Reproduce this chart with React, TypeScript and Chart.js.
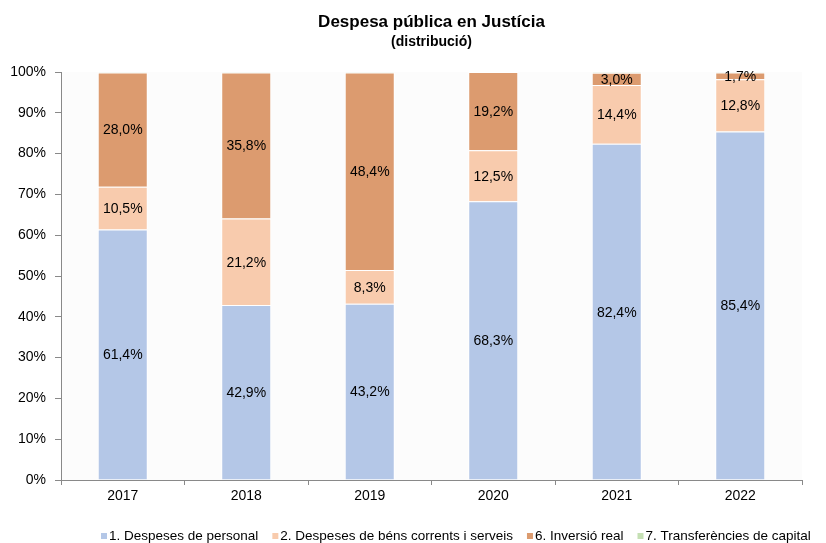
import { useEffect, useRef } from "react";
import { Chart, registerables } from "chart.js";
Chart.register(...registerables);

const years = ["2017", "2018", "2019", "2020", "2021", "2022"];
const personal = [61.4, 42.9, 43.2, 68.3, 82.4, 85.4];
const bens = [10.5, 21.2, 8.3, 12.5, 14.4, 12.8];
const inversio = [28.0, 35.8, 48.4, 19.2, 3.0, 1.7];
const transferencies = [0.1, 0.1, 0.1, 0.0, 0.2, 0.1];
const seriesNames = [
  "1. Despeses de personal",
  "2. Despeses de béns corrents i serveis",
  "6. Inversió real",
  "7. Transferències de capital",
];
const seriesColors = ["#b4c7e7", "#f8cbad", "#dc9b6f", "#c5e0b4"];
const titleText = "Despesa pública en Justícia";
const subtitleText = "(distribució)";
const FONT = "'Liberation Sans', Arial, sans-serif";

const fmt = (v: number) => v.toFixed(1).replace(".", ",") + "%";

const bgPlugin = {
  id: "bgPlugin",
  beforeDraw(chart: any) {
    const { ctx, chartArea } = chart;
    ctx.save();
    ctx.fillStyle = "#fcfcfc";
    ctx.fillRect(chartArea.left, chartArea.top, chartArea.right - chartArea.left, chartArea.bottom - chartArea.top);
    ctx.restore();
  },
};

const labelPlugin = {
  id: "labelPlugin",
  afterDatasetsDraw(chart: any) {
    const { ctx } = chart;
    ctx.save();
    ctx.font = `14px ${FONT}`;
    ctx.fillStyle = "#000";
    ctx.textAlign = "center";
    ctx.textBaseline = "middle";
    chart.data.datasets.forEach((ds: any, di: number) => {
      if (di === 3) return;
      const meta = chart.getDatasetMeta(di);
      meta.data.forEach((el: any, i: number) => {
        const v = ds.data[i];
        const { x, y, base } = el.getProps(["x", "y", "base"], true);
        ctx.fillText(fmt(v), x, (y + base) / 2 + 1);
      });
    });
    ctx.restore();
  },
};

const titleLegendPlugin = {
  id: "titleLegendPlugin",
  afterDraw(chart: any) {
    const { ctx, chartArea } = chart;
    const cx = (chartArea.left + chartArea.right) / 2;
    ctx.save();
    ctx.fillStyle = "#000";
    ctx.textAlign = "center";
    ctx.textBaseline = "middle";
    ctx.font = `bold 17px ${FONT}`;
    ctx.fillText(titleText, cx, 22);
    ctx.font = `bold 14px ${FONT}`;
    ctx.fillText(subtitleText, cx, 42);

    ctx.font = `13.5px ${FONT}`;
    ctx.textAlign = "left";
    let x = chartArea.left + 40;
    const y = 536;
    chart.data.datasets.forEach((ds: any) => {
      ctx.fillStyle = ds.backgroundColor;
      ctx.fillRect(x, y - 3, 6, 6);
      x += 8;
      ctx.fillStyle = "#000";
      ctx.fillText(ds.label, x, y);
      x += ctx.measureText(ds.label).width + 14;
    });
    ctx.restore();
  },
};

export default function App() {
  const ref = useRef<HTMLCanvasElement>(null);
  useEffect(() => {
    if (!ref.current) return;
    Chart.defaults.font.family = FONT;
    const series = [personal, bens, inversio, transferencies];
    const chart = new Chart(ref.current, {
      type: "bar",
      data: {
        labels: years,
        datasets: series.map((d, i) => ({
          label: seriesNames[i],
          data: d,
          backgroundColor: seriesColors[i],
          borderColor: "#ffffff",
          borderWidth: 1,
          barPercentage: 0.405,
          categoryPercentage: 1,
        })),
      },
      options: {
        animation: false,
        responsive: false,
        layout: { padding: { top: 72, right: 24, left: 0, bottom: 0 } },
        plugins: {
          legend: { display: false },
          title: { display: false },
          tooltip: { enabled: false },
        },
        scales: {
          x: {
            stacked: true,
            grid: { drawOnChartArea: false, drawTicks: true, tickLength: 5, color: "#898989", offset: true },
            border: { color: "#898989", width: 1 },
            ticks: { color: "#000", font: { size: 14 }, padding: 3 },
            afterFit: (s: any) => { s.height = 63; },
          },
          y: {
            stacked: true,
            min: 0,
            max: 100,
            grid: { drawOnChartArea: false, drawTicks: true, tickLength: 6, color: "#898989" },
            border: { color: "#898989", width: 1 },
            ticks: { stepSize: 10, color: "#000", font: { size: 14 }, padding: 9, callback: (v: any) => `${v}%` },
            afterFit: (s: any) => { s.width = 61; },
          },
        },
      },
      plugins: [bgPlugin, labelPlugin, titleLegendPlugin],
    });
    return () => chart.destroy();
  }, []);
  return (
    <div style={{ position: "fixed", left: 0, top: 0, width: 826, height: 543 }}>
      <canvas ref={ref} width={826} height={543} />
    </div>
  );
}
